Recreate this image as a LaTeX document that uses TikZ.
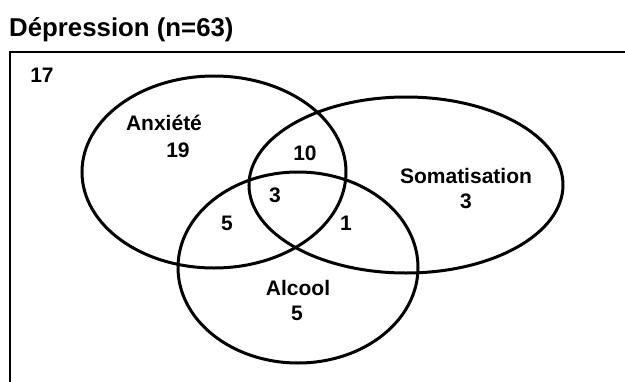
\documentclass[tikz,border=0pt]{standalone}
\usepackage{fontspec}
\setmainfont{Liberation Sans}
\usetikzlibrary{shapes.geometric}
\begin{document}
\begin{tikzpicture}[x=1pt,y=-1pt,
  venn/.style={draw=black, line width=3pt, ellipse, inner sep=0pt},
  lbl/.style={font=\bfseries\fontsize{21}{25}\selectfont, anchor=base, inner sep=0pt},
  frameline/.style={draw=black, line width=2.2pt}]
\useasboundingbox (0,0) rectangle (625,381);
% title
\node[font=\bfseries\fontsize{25.8}{30}\selectfont, anchor=base west, inner sep=0pt] (title) at (9,36) {Dépression (n=63)};
% frame
\coordinate (fr) at (626,52);
\coordinate (fc) at (10,52);
\coordinate (fb) at (10,382);
\draw[frameline] (fr) -- (fc) -- (fb);
% ellipses
\node[venn, minimum width=264pt, minimum height=192pt] (anx) at (214,172) {};
\node[venn, minimum width=314pt, minimum height=176pt] (som) at (406,185) {};
\node[venn, minimum width=240pt, minimum height=191pt] (alc) at (298,267.5) {};
% labels
\node[lbl] (n17) at (42,82) {17};
\node[lbl] (anxl) at (164,130) {Anxiété};
\node[lbl] (n19) at (178,157) {19};
\node[lbl] (n10) at (305,160) {10};
\node[lbl] (n3) at (275,202) {3};
\node[lbl] (n5a) at (227,230.5) {5};
\node[lbl] (n1) at (346,230.5) {1};
\node[lbl] (soml) at (466,183) {Somatisation};
\node[lbl] (n3s) at (466,208) {3};
\node[lbl] (alcl) at (298,295) {Alcool};
\node[lbl] (n5b) at (297,320) {5};
\end{tikzpicture}
\end{document}
